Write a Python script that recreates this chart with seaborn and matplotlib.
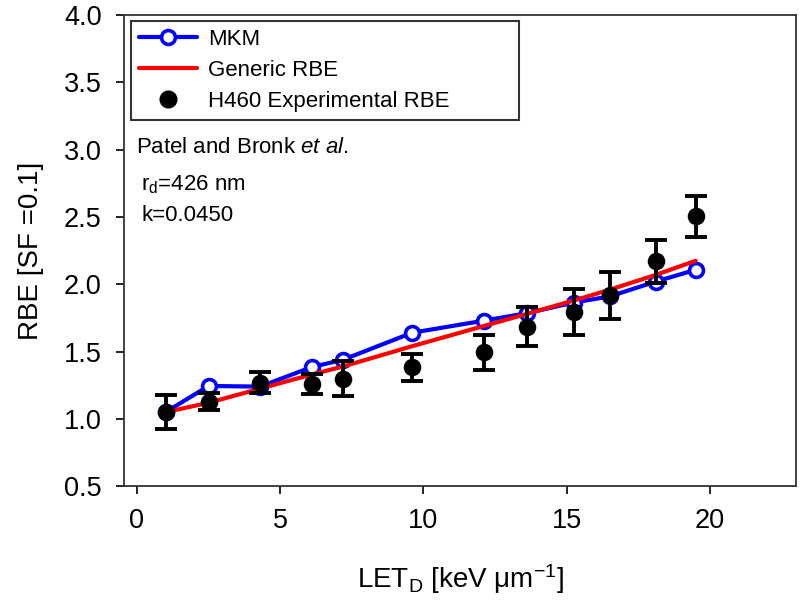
import numpy as np
import pandas as pd
import matplotlib
matplotlib.use("Agg")
import matplotlib.pyplot as plt
from matplotlib.lines import Line2D
import seaborn as sns

# ---- data ----
let_d = [1.0, 2.5, 4.3, 6.1, 7.2, 9.6, 12.1, 13.6, 15.25, 16.5, 18.1, 19.5]
mkm_rbe = [1.05, 1.245, 1.24, 1.385, 1.44, 1.64, 1.73, 1.785, 1.865, 1.91, 2.02, 2.108]
generic_rbe = [1.05, 1.12, 1.225, 1.33, 1.39, 1.54, 1.69, 1.78, 1.88, 1.96, 2.07, 2.175]
exp_rbe = [1.05, 1.128, 1.27, 1.26, 1.30, 1.385, 1.495, 1.685, 1.795, 1.92, 2.17, 2.505]
exp_err = [0.125, 0.062, 0.075, 0.072, 0.13, 0.10, 0.13, 0.143, 0.17, 0.175, 0.16, 0.152]
x_ticks = [0, 5, 10, 15, 20]
y_ticks = [0.5, 1.0, 1.5, 2.0, 2.5, 3.0, 3.5, 4.0]

df = pd.DataFrame({"LET": let_d, "MKM": mkm_rbe, "Generic": generic_rbe,
                   "Exp": exp_rbe, "Err": exp_err})

sns.set_theme(style="white")
plt.rcParams["font.family"] = ["Liberation Sans", "DejaVu Sans"]
plt.rcParams["text.color"] = "black"
plt.rcParams["axes.labelcolor"] = "black"
plt.rcParams["mathtext.fontset"] = "custom"
plt.rcParams["mathtext.rm"] = "Liberation Sans"
plt.rcParams["mathtext.it"] = "Liberation Sans:italic"

fig = plt.figure(figsize=(8.0, 6.07), dpi=100)
ax = fig.add_axes([0.155, 0.199, 0.84, 0.776])

# error bars for experimental data
ax.errorbar(df["LET"], df["Exp"], yerr=df["Err"], fmt="none", ecolor="black",
            elinewidth=2.8, capsize=8, capthick=2.8, zorder=4)

sns.lineplot(data=df, x="LET", y="Generic", ax=ax, color="#ff0000", lw=3.0,
             zorder=3, legend=False)
sns.lineplot(data=df, x="LET", y="MKM", ax=ax, color="#0000ff", lw=3.0,
             marker="o", markersize=10, markerfacecolor="white",
             markeredgecolor="#0000ff", markeredgewidth=2.6, zorder=2,
             legend=False)
sns.scatterplot(data=df, x="LET", y="Exp", ax=ax, color="black", s=160,
                edgecolor="black", linewidth=0, zorder=5, legend=False)

ax.set_xlim(-0.45, 23.0)
ax.set_ylim(0.5, 4.0)
ax.set_xticks(x_ticks)
ax.set_yticks(y_ticks)
ax.set_yticklabels([f"{v:.1f}" for v in y_ticks])
ax.tick_params(axis="both", labelsize=19.5, colors="black", direction="out",
               length=6, width=1.2, left=True, bottom=True)
ax.tick_params(axis="x", pad=10)
ax.tick_params(axis="y", pad=10)
for sp in ax.spines.values():
    sp.set_visible(True)
    sp.set_color("#333333")
    sp.set_linewidth(1.3)

ax.set_xlabel(r"LET$_\mathrm{D}$ [keV $\mathrm{\mu}$m$^{\mathrm{-1}}$]", fontsize=20,
              labelpad=20, color="black")
ax.set_ylabel("RBE [SF =0.1]", fontsize=20, labelpad=14, color="black")

handles = [
    Line2D([], [], color="#0000ff", lw=3.0, marker="o", markersize=10,
           markerfacecolor="white", markeredgecolor="#0000ff", markeredgewidth=2.6),
    Line2D([], [], color="#ff0000", lw=3.0),
    Line2D([], [], color="black", lw=0, marker="o", markersize=12),
]
labels = ["MKM", "Generic RBE", "H460 Experimental RBE"]
leg = ax.legend(handles, labels, loc="upper left",
                bbox_to_anchor=(0.0104, 0.781, 0.578, 0.206), mode="expand",
                fontsize=16, frameon=True, fancybox=False, borderaxespad=0,
                handlelength=2.6, handletextpad=0.5, labelspacing=0.45,
                borderpad=0.35)
leg.get_frame().set_edgecolor("black")
leg.get_frame().set_linewidth(1.5)
for t in leg.get_texts():
    t.set_color("black")

ax.text(0.018, 0.72, r"Patel and Bronk $\mathit{et\ al.}$", transform=ax.transAxes,
        fontsize=16, ha="left", va="center", color="black")
ax.text(0.026, 0.641, r"r$_\mathrm{d}$=426 nm", transform=ax.transAxes,
        fontsize=16, ha="left", va="center", color="black")
ax.text(0.026, 0.575, "k=0.0450", transform=ax.transAxes,
        fontsize=16, ha="left", va="center", color="black")

fig.savefig("out.png", dpi=100)
